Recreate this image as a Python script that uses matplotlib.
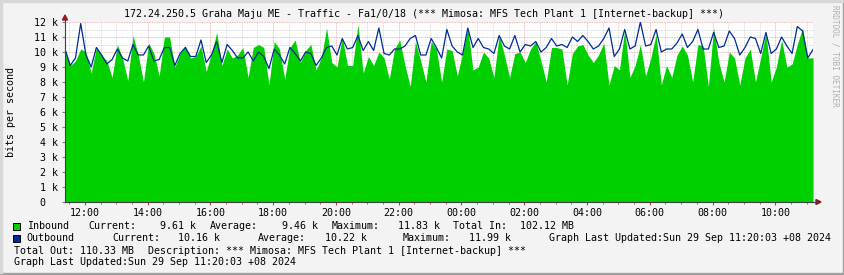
import matplotlib
matplotlib.use("Agg")
import matplotlib.pyplot as plt
import matplotlib.dates as mdates
from matplotlib.patches import Polygon, Rectangle
from matplotlib.lines import Line2D
import pandas as pd

# 10-minute samples, values in k bits/s
start_time = "2024-09-28 11:22"
inbound = [
    10.2, 9.1, 9.4, 10.2, 10.0, 8.6, 10.3, 9.8, 9.4, 8.3, 10.5, 9.6, 8.1, 11.1, 9.8, 8.0, 10.6, 9.9, 8.4, 11.0, 11.0, 9.0, 9.9, 10.4,
    9.6, 9.7, 10.4, 8.7, 9.9, 11.3, 9.1, 10.2, 9.6, 9.8, 10.3, 8.3, 10.3, 10.5, 10.3, 7.8, 10.7, 10.2, 8.2, 10.3, 10.8, 9.3, 10.1, 10.5,
    8.8, 9.6, 11.6, 9.3, 9.0, 11.0, 9.1, 9.1, 11.83, 8.6, 9.7, 9.1, 10.0, 9.6, 8.2, 10.2, 10.8, 9.1, 7.7, 10.7, 9.4, 8.0, 10.7, 10.2,
    8.0, 10.2, 10.1, 8.4, 9.9, 11.6, 8.8, 9.0, 10.0, 9.6, 8.3, 11.1, 9.8, 8.3, 9.9, 10.0, 9.3, 10.2, 10.7, 9.4, 8.0, 10.3, 10.3, 10.2,
    7.8, 9.9, 10.4, 10.5, 9.8, 9.3, 9.8, 10.6, 7.8, 9.1, 8.8, 11.5, 8.3, 9.1, 10.5, 8.4, 9.6, 11.2, 7.8, 9.1, 8.3, 9.8, 10.4, 9.8,
    8.0, 10.5, 10.4, 7.7, 11.6, 9.3, 8.0, 10.0, 9.6, 7.8, 9.6, 10.2, 8.0, 9.6, 11.3, 8.0, 9.0, 10.8, 9.0, 9.2, 10.5, 11.6, 9.6, 9.61,
]
outbound = [
    10.2, 9.1, 9.6, 11.9, 9.8, 9.0, 10.3, 9.8, 9.2, 9.5, 10.2, 9.6, 9.4, 10.5, 9.8, 9.8, 10.4, 9.4, 9.5, 10.3, 10.3, 9.1, 9.9, 10.3,
    9.7, 9.7, 10.8, 9.3, 9.8, 10.7, 9.3, 10.5, 10.1, 9.6, 9.6, 10.0, 9.4, 10.0, 9.7, 8.9, 10.2, 9.8, 9.2, 10.3, 9.9, 9.4, 10.0, 9.9,
    9.1, 9.6, 10.3, 10.4, 9.8, 10.9, 10.2, 10.3, 11.1, 10.1, 10.7, 10.1, 11.6, 9.9, 9.8, 10.2, 10.2, 10.4, 10.9, 11.1, 9.8, 9.8, 10.9, 10.3,
    9.6, 11.5, 10.4, 10.0, 9.8, 11.6, 10.3, 10.9, 10.3, 10.2, 9.9, 11.1, 10.4, 10.2, 11.1, 10.0, 10.5, 10.4, 10.7, 10.0, 10.3, 10.9, 10.4, 10.5,
    10.3, 11.0, 10.7, 11.1, 10.7, 10.2, 10.4, 10.9, 11.6, 9.7, 10.2, 11.5, 10.2, 10.4, 11.99, 10.4, 10.5, 11.5, 10.0, 10.2, 10.2, 10.6, 11.2, 10.3,
    10.7, 11.5, 10.2, 10.2, 11.3, 10.3, 10.4, 11.4, 10.9, 9.8, 10.3, 11.0, 10.9, 9.9, 11.3, 9.9, 10.2, 11.0, 10.4, 9.9, 11.7, 11.4, 9.6, 10.16,
]
y_ticks = list(range(0, 13))
y_tick_labels = ["0  "] + [f"{v} k" for v in range(1, 13)]

title = "172.24.250.5 Graha Maju ME - Traffic - Fa1/0/18 (*** Mimosa: MFS Tech Plant 1 [Internet-backup] ***)"
legend_in = [("Inbound", 26.7), ("Current:", 88.3), ("9.61 k", 160), ("Average:", 210), ("9.46 k", 281.7),
             ("Maximum:", 331.7), ("11.83 k", 398), ("Total In:", 453), ("102.12 MB", 520)]
legend_out = [("Outbound", 26.7), ("Current:", 112.7), ("10.16 k", 178.3), ("Average:", 258.3), ("10.22 k", 325),
              ("Maximum:", 402.7), ("11.99 k", 469.3), ("Graph Last Updated:Sun 29 Sep 11:20:03 +08 2024", 549.3)]
line3 = [("Total Out: 110.33 MB", 14), ("Description: *** Mimosa: MFS Tech Plant 1 [Internet-backup] ***", 148.3)]
line4 = "Graph Last Updated:Sun 29 Sep 11:20:03 +08 2024"

W, H = 845, 275
GREEN = "#00CF00"
BLUE = "#002A97"
MONO = "DejaVu Sans Mono"
FS = 7.2


def px(x, y):
    return x / W, 1 - y / H


times = pd.date_range(start_time, periods=len(inbound), freq="10min")

fig = plt.figure(figsize=(W / 100, H / 100), dpi=100, facecolor="#F3F3F3")
left, top, right, bottom = 65, 22, 813, 202
ax = fig.add_axes([left / W, 1 - bottom / H, (right - left) / W, (bottom - top) / H])
ax.set_facecolor("white")

ax.fill_between(times, inbound, 0, color=GREEN, linewidth=0, zorder=3)
ax.plot(times, outbound, color=BLUE, linewidth=0.9, zorder=4)

ax.set_xlim(times[0], times[-1])
ax.set_ylim(0, 12)

# grid: minor every 30 min / 0.5 k, major every 2 h / 1 k
ax.xaxis.set_major_locator(mdates.HourLocator(byhour=range(0, 24, 2)))
ax.xaxis.set_minor_locator(mdates.MinuteLocator(byminute=[0, 30]))
ax.xaxis.set_major_formatter(mdates.DateFormatter("%H:%M"))
ax.set_yticks(y_ticks)
ax.set_yticklabels(y_tick_labels)
ax.set_yticks([v + 0.5 for v in range(12)], minor=True)
ax.grid(which="minor", color="#CFCFCF", linestyle=(0, (1, 1)), linewidth=0.6, zorder=1)
ax.grid(which="major", color="#F0A0A0", linestyle=(0, (1, 1)), linewidth=0.6, zorder=2)
ax.set_axisbelow(True)

for lab in ax.get_xticklabels() + ax.get_yticklabels():
    lab.set_fontfamily(MONO)
    lab.set_fontsize(FS)
ax.tick_params(axis="x", which="major", direction="out", length=2.2, color="#C04040", pad=2.2)
ax.tick_params(axis="x", which="minor", direction="out", length=1.2, color="#C04040")
ax.tick_params(axis="y", which="major", direction="out", length=2.2, color="#808080", pad=2.9)
ax.tick_params(axis="y", which="minor", length=0)

for s in ["top", "right"]:
    ax.spines[s].set_visible(False)
for s in ["left", "bottom"]:
    ax.spines[s].set_color("#404040")
    ax.spines[s].set_linewidth(0.8)
    ax.spines[s].set_zorder(5)

# axis extensions and arrows
fig.add_artist(Line2D([px(65, 22)[0], px(65, 19)[0]], [px(65, 22)[1], px(65, 19)[1]], color="#404040", linewidth=0.8))
fig.add_artist(Line2D([px(813, 202)[0], px(817, 202)[0]], [px(813, 202)[1], px(817, 202)[1]], color="#404040", linewidth=0.8))
fig.add_artist(Polygon([px(62.5, 20), px(67.5, 20), px(65, 15)], closed=True, color="#8B1A1A"))
fig.add_artist(Polygon([px(816, 199.5), px(816, 204.5), px(821, 202)], closed=True, color="#8B1A1A"))

# frame shading
fig.add_artist(Rectangle(px(0, 275), 845 / W, 2 / H, color="#A0A0A0", transform=fig.transFigure))
fig.add_artist(Rectangle(px(843, 275), 2 / W, 275 / H, color="#A0A0A0", transform=fig.transFigure))
fig.add_artist(Rectangle(px(0, 2), 843 / W, 2 / H, color="#D8D8D8", transform=fig.transFigure))
fig.add_artist(Rectangle(px(0, 273), 2 / W, 271 / H, color="#D8D8D8", transform=fig.transFigure))

fig.text(*px(424, 14), title, ha="center", va="center", family=MONO, fontsize=FS)
fig.text(*px(11, 112), "bits per second", ha="center", va="center", rotation=90, family=MONO, fontsize=FS)
fig.text(*px(835, 5), "RRDTOOL / TOBI OETIKER", ha="center", va="top", rotation=-90,
         family=MONO, fontsize=5.6, color="#B0B0B0")

# legend
for y, color in [(226, GREEN), (238.3, BLUE)]:
    fig.add_artist(Rectangle(px(13.5, y + 3.5), 7 / W, 7 / H, facecolor=color, edgecolor="black",
                             linewidth=0.7, transform=fig.transFigure))
for text, x in legend_in:
    fig.text(*px(x, 226), text, ha="left", va="center", family=MONO, fontsize=FS)
for text, x in legend_out:
    fig.text(*px(x, 238.3), text, ha="left", va="center", family=MONO, fontsize=FS)
for text, x in line3:
    fig.text(*px(x, 250.7), text, ha="left", va="center", family=MONO, fontsize=FS)
fig.text(*px(14, 262.3), line4, ha="left", va="center", family=MONO, fontsize=FS)

fig.savefig("out.png", dpi=100, facecolor=fig.get_facecolor())
